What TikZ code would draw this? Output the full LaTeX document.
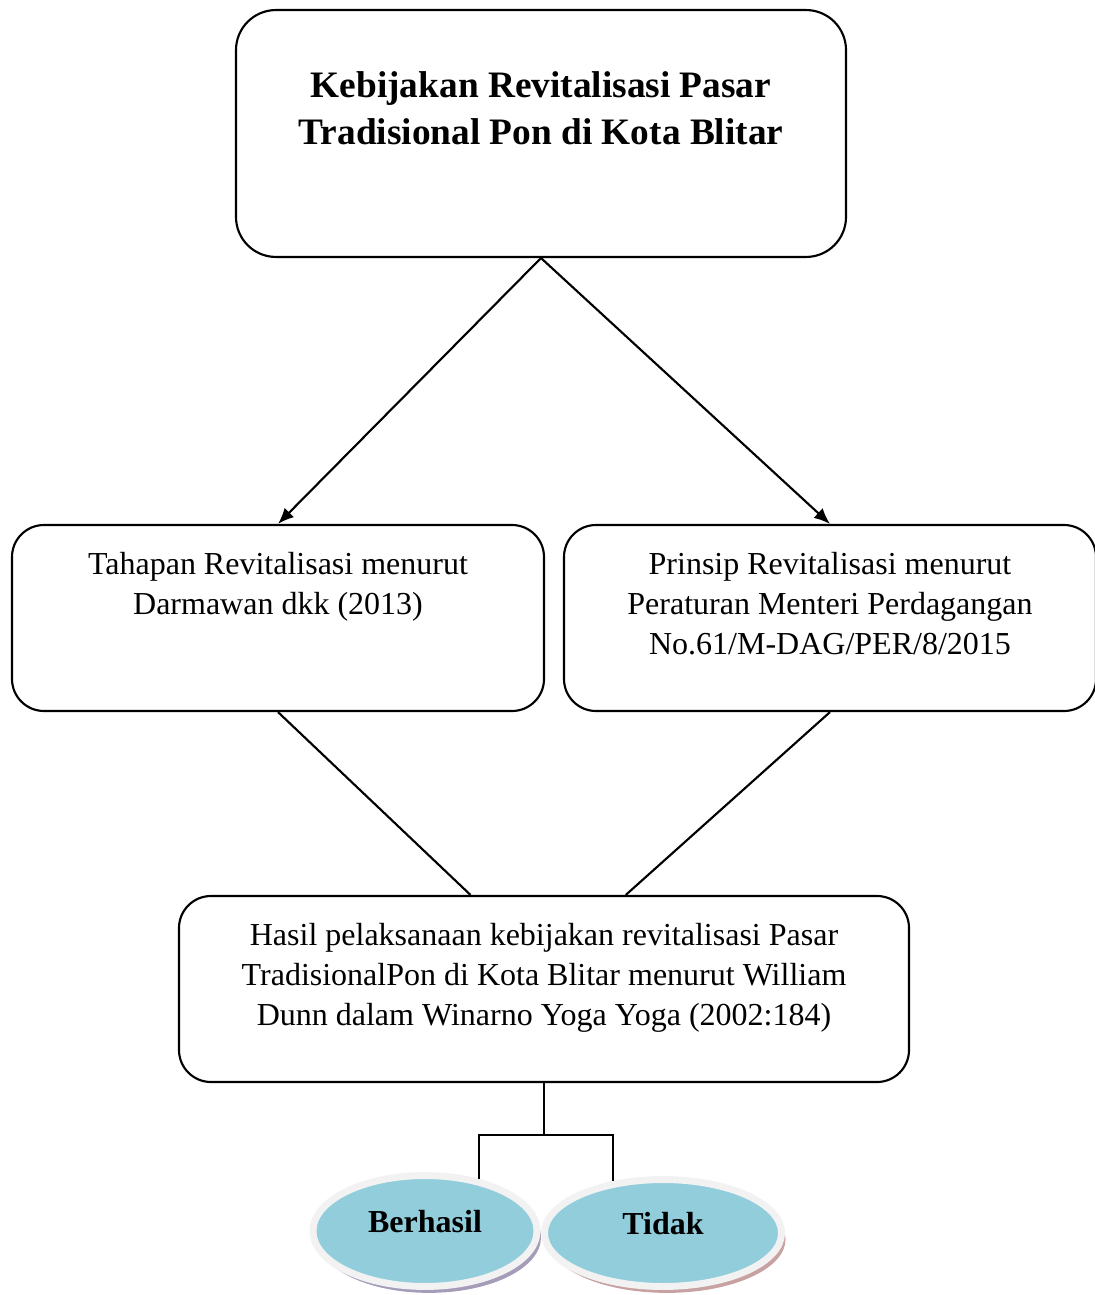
\documentclass[tikz,border=0pt]{standalone}
\usepackage{fontspec}
\setmainfont{Liberation Serif}
\usetikzlibrary{shapes.geometric,shadows,arrows.meta}

\definecolor{aqua}{HTML}{92CDDC}
\definecolor{rim}{HTML}{F2F2F2}
\definecolor{shadeA}{HTML}{A59CB9}
\definecolor{shadeB}{HTML}{C8A2A2}

\tikzset{
  kotak/.style={draw, line width=0.8pt, rounded corners=12pt, minimum height=69.75pt},
  isi/.style={anchor=north, yshift=-7pt, align=center, font=\fontsize{12}{15}\selectfont},
  judul/.style={anchor=north, yshift=-20pt, align=center, font=\bfseries\fontsize{14}{17.6}\selectfont},
  panah/.style={-{Latex[length=6pt,width=5pt]}, line width=0.8pt},
  garis/.style={line width=0.8pt},
  bulat/.style={ellipse, fill=aqua, draw=rim, line width=2.6pt, inner sep=0pt,
    text depth=7pt, font=\bfseries\fontsize{12}{15}\selectfont}
}

\begin{document}
\begin{tikzpicture}[x=0.375pt,y=-0.375pt]
  \useasboundingbox (0,0) rectangle (1094,1295);

  % kotak utama
  \node[kotak, rounded corners=15pt, minimum width=228.75pt, minimum height=92.6pt,
    label={[judul]north:Kebijakan Revitalisasi Pasar\\Tradisional Pon di Kota Blitar}] (kebijakan) at (541,133.5) {};

  \node[kotak, minimum width=199.5pt,
    label={[isi]north:Tahapan Revitalisasi menurut\\Darmawan dkk (2013)}] (tahapan) at (278,618) {};
  \node[kotak, minimum width=199.5pt,
    label={[isi]north:Prinsip Revitalisasi menurut\\Peraturan Menteri Perdagangan\\No.61/M-DAG/PER/8/2015}] (prinsip) at (830,618) {};

  \node[kotak, minimum width=273.75pt,
    label={[isi]north:Hasil pelaksanaan kebijakan revitalisasi Pasar\\TradisionalPon di Kota Blitar menurut William\\Dunn dalam Winarno Yoga Yoga (2002:184)}] (hasil) at (544,989) {};

  \draw[panah] (kebijakan.south) -- (tahapan.north);
  \draw[panah] (kebijakan.south) -- (prinsip.north);
  \draw[garis] (tahapan.south) -- (hasil.128);
  \draw[garis] (prinsip.south) -- (hasil.49);

  % hasil akhir
  \node[bulat, minimum width=84pt, minimum height=41.6pt,
    drop shadow={shadow xshift=1.5pt, shadow yshift=-2.4pt, fill=shadeA, opacity=1}] (berhasil) at (425,1231) {Berhasil};
  \node[bulat, minimum width=88.9pt, minimum height=40.1pt,
    drop shadow={shadow xshift=1.5pt, shadow yshift=-2.4pt, fill=shadeB, opacity=1}] (tidak) at (663,1233) {Tidak};

  \coordinate (cabang) at (544,1135);
  \draw[garis] (hasil.south) -- (cabang);
  \draw[garis] (cabang) -| (berhasil.44);
  \draw[garis] (cabang) -| (tidak.134);

\end{tikzpicture}
\end{document}
